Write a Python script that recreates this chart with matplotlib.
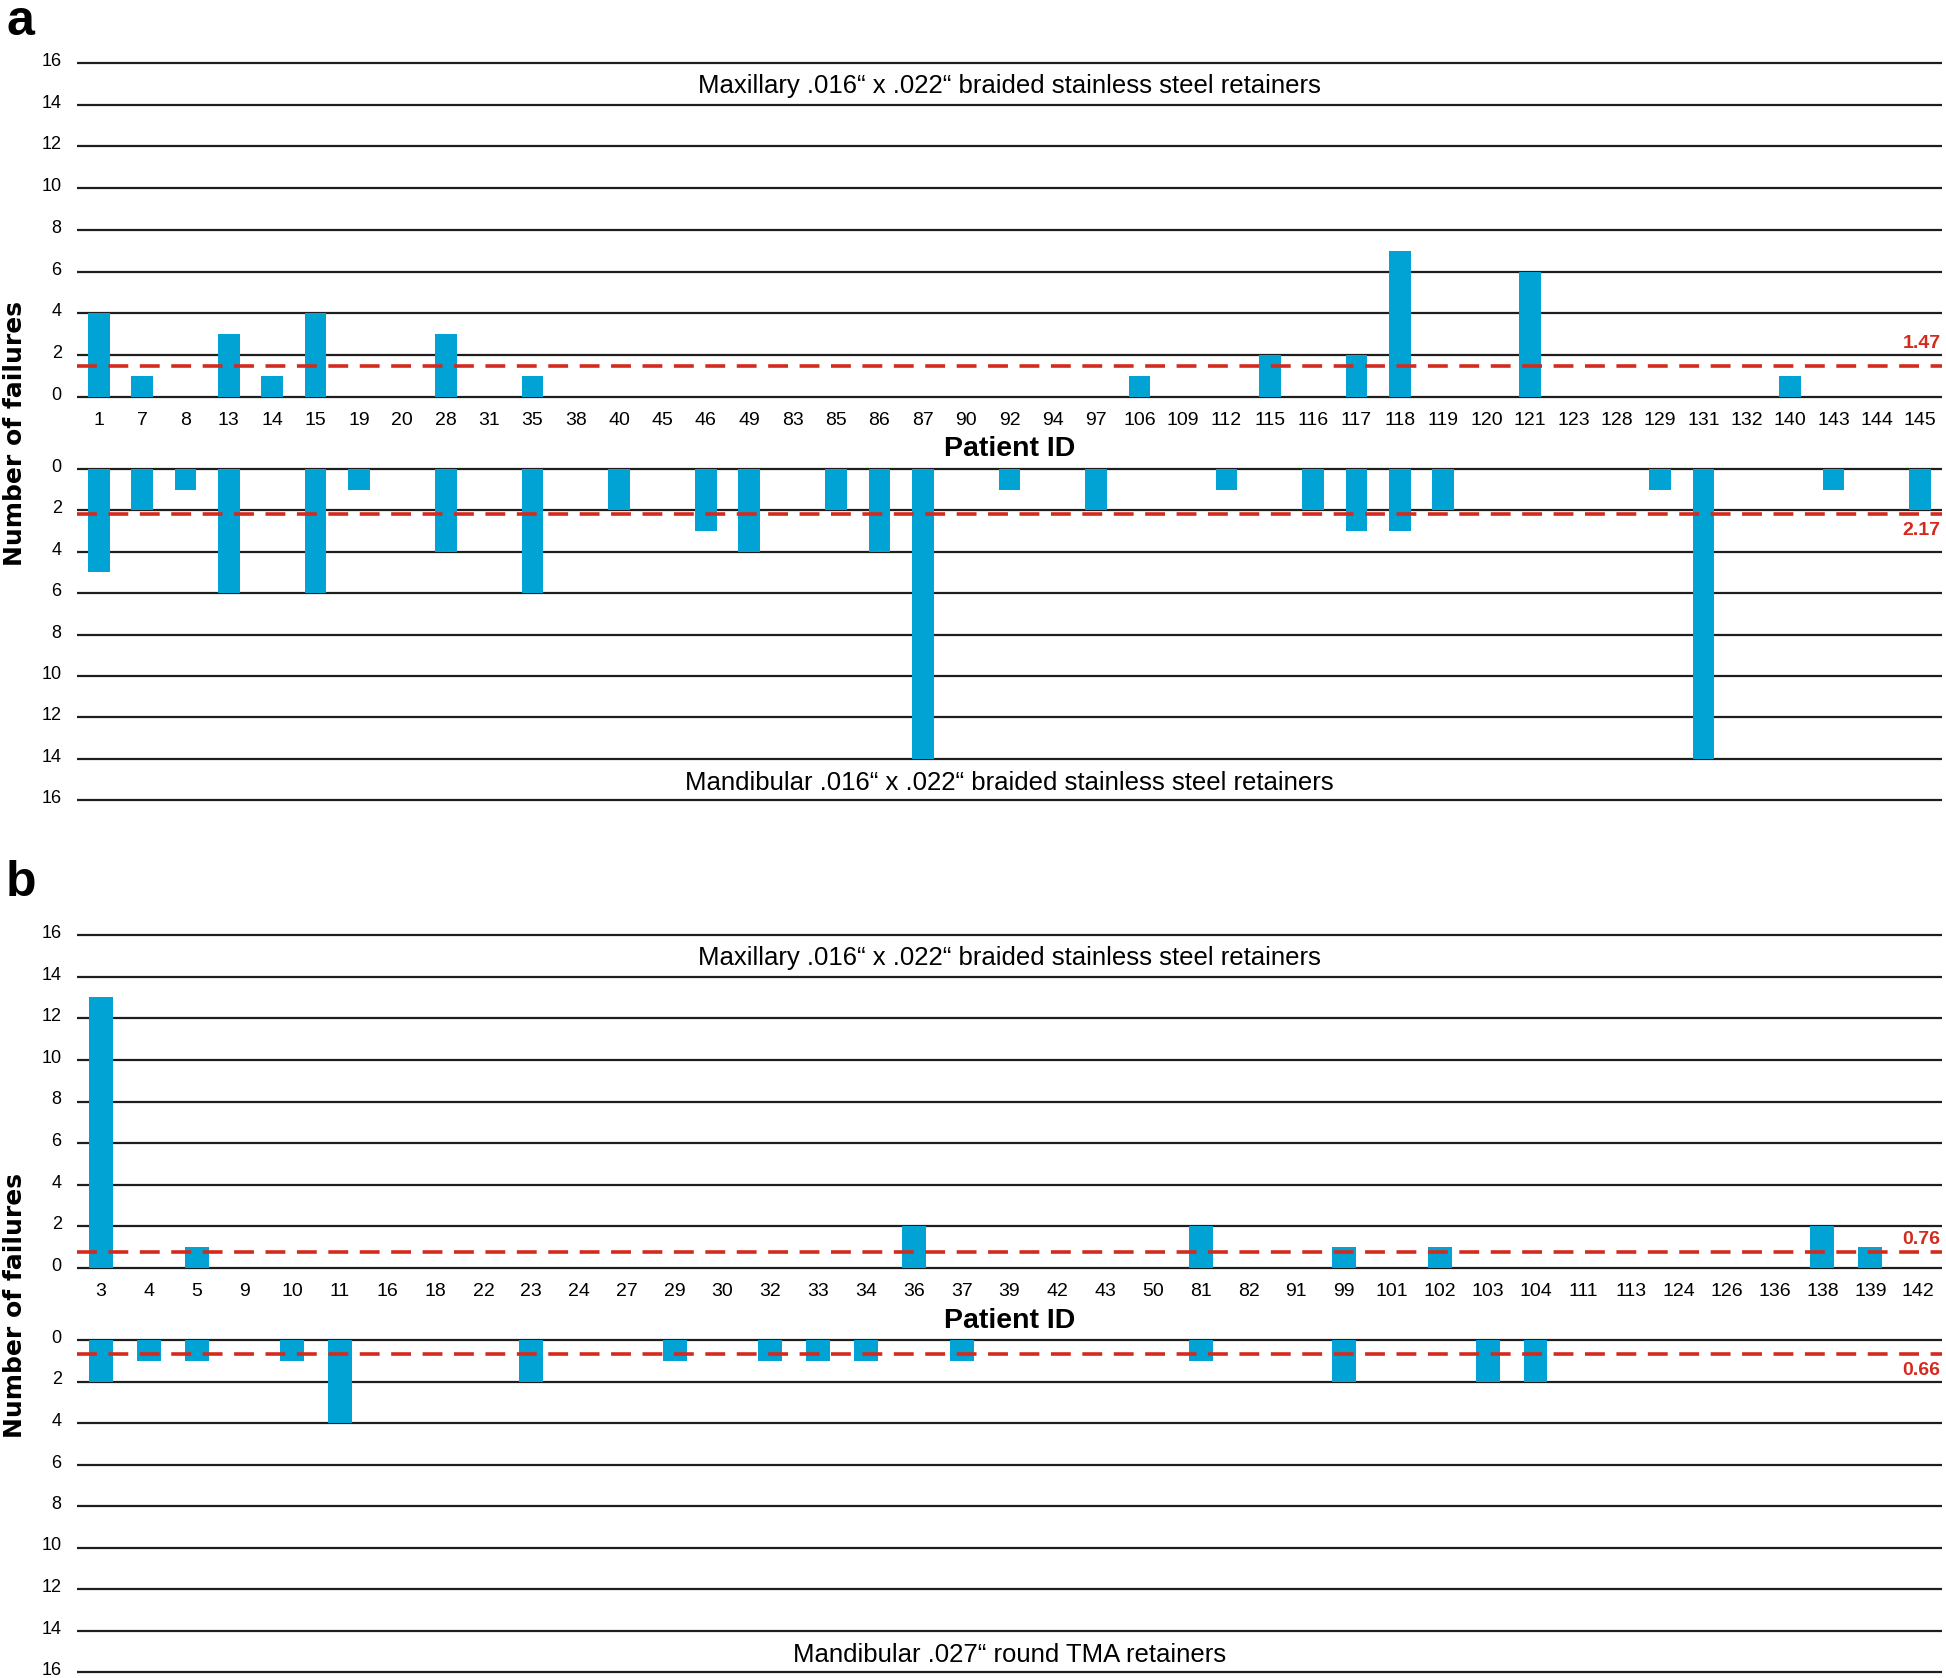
import matplotlib
matplotlib.use("Agg")
import matplotlib.pyplot as plt
from matplotlib.transforms import ScaledTranslation

plt.rcParams['font.family'] = ['Liberation Sans Narrow', 'Liberation Sans', 'DejaVu Sans']

# panel a: maxillary / mandibular braided stainless steel
ids_a = [1, 7, 8, 13, 14, 15, 19, 20, 28, 31, 35, 38, 40, 45, 46, 49, 83, 85, 86, 87,
         90, 92, 94, 97, 106, 109, 112, 115, 116, 117, 118, 119, 120, 121, 123, 128,
         129, 131, 132, 140, 143, 144, 145]
max_a = [4, 1, 0, 3, 1, 4, 0, 0, 3, 0, 1, 0, 0, 0, 0, 0, 0, 0, 0, 0,
         0, 0, 0, 0, 1, 0, 0, 2, 0, 2, 7, 0, 0, 6, 0, 0,
         0, 0, 0, 1, 0, 0, 0]
mand_a = [5, 2, 1, 6, 0, 6, 1, 0, 4, 0, 6, 0, 2, 0, 3, 4, 0, 2, 4, 14,
          0, 1, 0, 2, 0, 0, 1, 0, 2, 3, 3, 2, 0, 0, 0, 0,
          1, 14, 0, 0, 1, 0, 2]
mean_max_a, mean_mand_a = 1.47, 2.17

# panel b: maxillary braided SS / mandibular round TMA
ids_b = [3, 4, 5, 9, 10, 11, 16, 18, 22, 23, 24, 27, 29, 30, 32, 33, 34, 36, 37, 39,
         42, 43, 50, 81, 82, 91, 99, 101, 102, 103, 104, 111, 113, 124, 126, 136,
         138, 139, 142]
max_b = [13, 0, 1, 0, 0, 0, 0, 0, 0, 0, 0, 0, 0, 0, 0, 0, 0, 2, 0, 0,
         0, 0, 0, 2, 0, 0, 1, 0, 1, 0, 0, 0, 0, 0, 0, 0,
         2, 1, 0]
mand_b = [2, 1, 1, 0, 1, 4, 0, 0, 0, 2, 0, 0, 1, 0, 1, 1, 1, 0, 1, 0,
          0, 0, 0, 1, 0, 0, 2, 0, 0, 2, 2, 0, 0, 0, 0, 0,
          0, 0, 0]
mean_max_b, mean_mand_b = 0.76, 0.66

label_max = "Maxillary .016\u201c x .022\u201c braided stainless steel retainers"
label_mand_a = "Mandibular .016\u201c x .022\u201c braided stainless steel retainers"
label_mand_b = "Mandibular .027\u201c round TMA retainers"

BLUE = '#00a3d4'
RED = '#d42a1e'
GRID = '#1e1e1e'

W, H = 1946, 1678
fig = plt.figure(figsize=(W / 100, H / 100), dpi=100)


def px_axes(left, top, right, bottom):
    return fig.add_axes([left / W, 1 - bottom / H, (right - left) / W, (bottom - top) / H])


def half(ax, ids, vals, mean, text, inverted, show_x, mean_off):
    n = len(ids)
    x = list(range(n))
    ax.set_xlim(-0.5, n - 0.5)
    ax.set_ylim((16, 0) if inverted else (0, 16))
    ax.hlines(range(0, 17, 2), -0.5, n - 0.5, colors=GRID, lw=1.6, clip_on=False, zorder=1)
    ax.bar(x, vals, width=0.5, color=BLUE, zorder=2)
    ax.axhline(mean, color=RED, lw=2.6, dashes=(5.5, 3.2), zorder=3, clip_on=False)
    ax.text((n - 1) / 2, 15.2 if inverted else 14.9, text, ha='center', va='center',
            fontsize=18.5)
    ax.annotate(f"{mean:.2f}", xy=(1, mean), xycoords=('axes fraction', 'data'),
                xytext=(-1, mean_off), textcoords='offset points', ha='right',
                va='top' if mean_off < 0 else 'bottom',
                color=RED, fontsize=14, weight='bold')
    ax.set_yticks(range(0, 17, 2))
    ax.tick_params(axis='y', length=0, pad=11, labelsize=13)
    shift = ScaledTranslation(0, 3.5 / 100, fig.dpi_scale_trans)
    for lab in ax.get_yticklabels():
        lab.set_transform(lab.get_transform() + shift)
    if show_x:
        ax.set_xticks(x)
        ax.set_xticklabels([str(i) for i in ids])
        ax.tick_params(axis='x', length=0, pad=11, labelsize=14)
    else:
        ax.set_xticks([])
    for s in ax.spines.values():
        s.set_visible(False)
    ax.patch.set_visible(False)


L, R = 77, 1942

ax1 = px_axes(L, 63, R, 397)
half(ax1, ids_a, max_a, mean_max_a, label_max, False, True, 10)
ax2 = px_axes(L, 469, R, 800)
half(ax2, ids_a, mand_a, mean_mand_a, label_mand_a, True, False, -6)

ax3 = px_axes(L, 935, R, 1268)
half(ax3, ids_b, max_b, mean_max_b, label_max, False, True, 3)
ax4 = px_axes(L, 1340, R, 1672)
half(ax4, ids_b, mand_b, mean_mand_b, label_mand_b, True, False, -6)

for yc in (449, 1321):
    fig.text((L + R) / 2 / W, 1 - yc / H, "Patient ID", ha='center', va='center',
             fontsize=20.5, weight='bold')

for yc in (434, 1305):
    fig.text(15 / W, 1 - yc / H, "Number of failures", rotation=90, ha='center',
             va='center', fontsize=18, weight='bold', family=['DejaVu Sans'])

fig.text(6 / W, 1 - 35 / H, "a", ha='left', va='baseline', fontsize=36, weight='bold',
         family=['Liberation Sans', 'DejaVu Sans'])
fig.text(6 / W, 1 - 896 / H, "b", ha='left', va='baseline', fontsize=36, weight='bold',
         family=['Liberation Sans', 'DejaVu Sans'])

fig.savefig("out.png", dpi=100)
